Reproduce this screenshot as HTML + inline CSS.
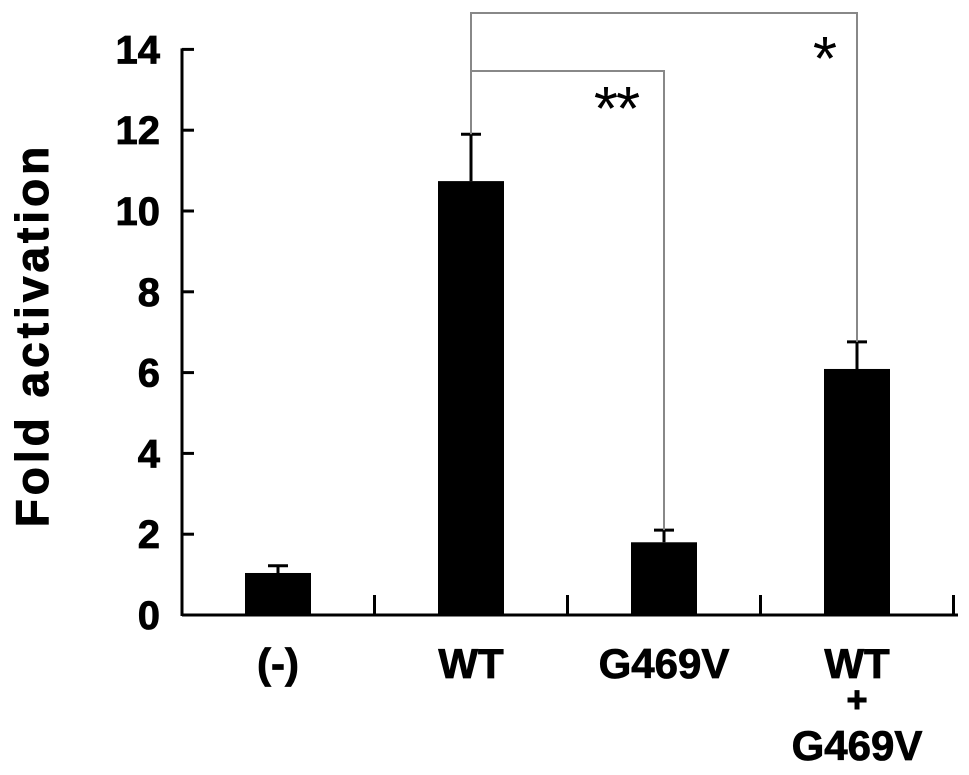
<!DOCTYPE html>
<html><head><style>
body{margin:0;background:#fff;}
svg{display:block;font-family:"Liberation Sans",Arial,sans-serif;font-weight:bold;}
</style></head><body>
<svg width="969" height="775" viewBox="0 0 969 775">
<g id="g"></g>
</svg>
<script>
const categories=["(-)","WT","G469V","WT+G469V"];
const values=[1.04,10.74,1.8,6.09];
const errors=[0.18,1.16,0.3,0.67];
const yTicks=[0,2,4,6,8,10,12,14];
const NS="http://www.w3.org/2000/svg";
const g=document.getElementById('g');
const y0=615,yScale=40.4,xLeft=182,xRight=958,step=193,x0=278,barW=66;
function Y(v){return y0-v*yScale;}
function X(i){return x0+i*step;}
function mk(t,a,p){const e=document.createElementNS(NS,t);for(const k in a)e.setAttribute(k,a[k]);(p||g).appendChild(e);return e;}
let e=mk('line',{x1:xLeft,y1:Y(14)-1,x2:xLeft,y2:y0+1,stroke:'#000','stroke-width':3});


e=mk('line',{x1:xLeft,y1:y0,x2:xRight,y2:y0,stroke:'#000','stroke-width':3});


yTicks.forEach(v=>{
  let t=mk('line',{x1:xLeft,y1:Y(v),x2:xLeft+12,y2:Y(v),stroke:'#000','stroke-width':3});
  
  
  let l=mk('text',{x:xLeft-22,y:Y(v)+14,'text-anchor':'end','font-size':40,'stroke':'#000','stroke-width':0.8});
  l.textContent=v;
  
  
});
for(let i=1;i<=categories.length;i++){
  const x=X(i)-step/2;
  let t=mk('line',{x1:x,y1:y0,x2:x,y2:y0-20,stroke:'#000','stroke-width':3});
  
  
}
categories.forEach((c,i)=>{
  const x=X(i);
  let b=mk('rect',{x:x-barW/2,y:Y(values[i]),width:barW,height:y0-Y(values[i]),fill:'#000'});
  
  
  const et=Y(values[i]+errors[i]);
  let l=mk('path',{d:`M${x} ${Y(values[i])}V${et}M${x-10} ${et}H${x+10}`,stroke:'#000','stroke-width':3,fill:'none'});
  
  
  const parts=c.split('+');
  let tx=mk('text',{x:x,y:678,'text-anchor':'middle','font-size':42,'stroke':'#000','stroke-width':0.8});
  
  
  if(parts.length===1){tx.textContent=c;}
  else{
    tx.textContent=parts[0];
    let p=mk('text',{x:x,y:712,'text-anchor':'middle','font-size':36,'stroke':'#000','stroke-width':1});p.textContent='+';
    
    
    let q=mk('text',{x:x,y:760,'text-anchor':'middle','font-size':42,'stroke':'#000','stroke-width':0.8});q.textContent=parts[1];
    
    
  }
});
const wt=X(1);
let br=mk('path',{d:`M${wt} ${Y(values[1]+errors[1])}V13H${X(3)}V${Y(values[3]+errors[3])}M${wt} 71H${X(2)}V${Y(values[2]+errors[2])}`,stroke:'#888','stroke-width':2,fill:'none'});


let s1=mk('text',{x:X(2)-48,y:130,'text-anchor':'middle','font-size':62,'font-weight':'normal','letter-spacing':'-2'});s1.textContent='**';


let s2=mk('text',{x:X(3)-32,y:80,'text-anchor':'middle','font-size':62,'font-weight':'normal'});s2.textContent='*';


let yt=mk('text',{x:0,y:0,'text-anchor':'middle','font-size':46,transform:'translate(48,335) rotate(-90)','letter-spacing':'4','stroke':'#000','stroke-width':1});
yt.textContent='Fold  activation';


</script>
</body></html>
